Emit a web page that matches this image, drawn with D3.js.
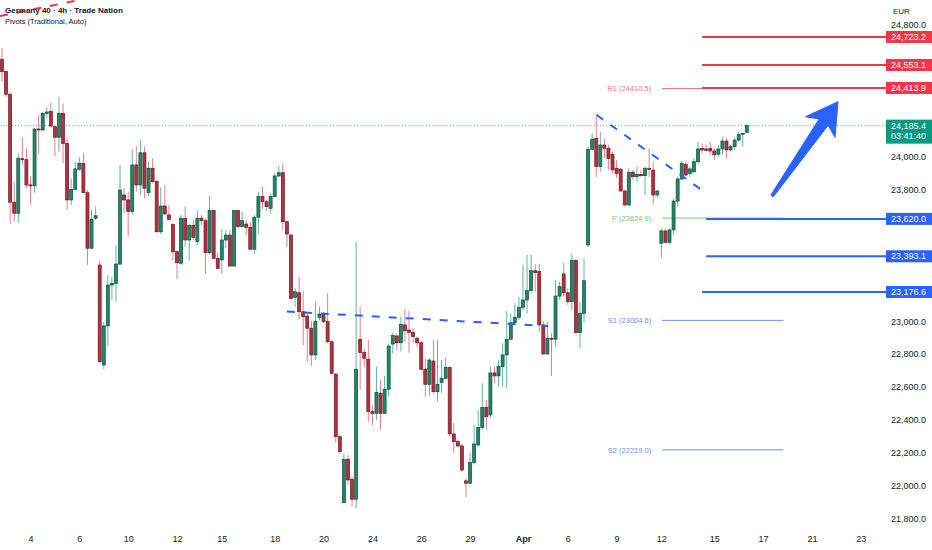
<!DOCTYPE html>
<html>
<head>
<meta charset="utf-8">
<script src="https://cdn.jsdelivr.net/npm/d3@7"></script>
<style>
    body { margin: 0; background: #ffffff; }
    svg { display: block; font-family: "Liberation Sans", Arial, sans-serif; }
</style>
</head>
<body>
<svg id="chart"></svg>
<script>
/**
 * Germany 40 - 4h candles with pivots and levels
 */
window.onload = function(){
    drawChart();
};

// candle prices, one value per 4h bar
const OPEN = [
    24588, 24513, 24376, 23721, 23654, 23985, 23979, 23826, 23821, 24165,
    24159, 24260, 24272, 24179, 24115, 24260, 24078, 23735, 23799, 23921,
    23957, 23779, 23442, 23624, 23340, 22734, 22971, 23219, 23229, 23346,
    23765, 23735, 23664, 23947, 23826, 24021, 23779, 23927, 23846, 23542,
    23698, 23644, 23587, 23421, 23351, 23624, 23492, 23579, 23482, 23624,
    23609, 23415, 23670, 23381, 23371, 23492, 23522, 23334, 23670, 23573,
    23589, 23569, 23436, 23630, 23755, 23724, 23684, 23755, 23880, 23900,
    23603, 23522, 23144, 23172, 23057, 23031, 22957, 22795, 23023, 23043,
    22997, 22875, 22679, 22299, 21899, 22162, 22041, 21920, 22890, 22809,
    22769, 22451, 22441, 22562, 22441, 22587, 22861, 22910, 22869, 22977,
    22946, 22932, 22896, 22869, 22708, 22617, 22758, 22572, 22627, 22653,
    22720, 22316, 22269, 22243, 22031, 22017, 22142, 22249, 22356, 22477,
    22431, 22686, 22668, 22724, 22795, 22890, 22990, 23023, 23084, 23128,
    23185, 23306, 23300, 22977, 22801, 22896, 22890, 23152, 23286, 23172,
    23118, 23367, 22930, 23047, 23462, 24042, 24109, 23937, 24068, 24048,
    24012, 23927, 23921, 23789, 23704, 23903, 23876, 23890, 23882, 23927,
    23916, 23765, 23472, 23547, 23478, 23553, 23728, 23862, 23951, 23896,
    23906, 23967, 24048, 24044, 24048, 24032, 24012, 24044, 24092, 24038,
    24058, 24098, 24133, 24145
];
const HIGH = [
    24656, 24519, 24385, 23846, 24018, 24115, 24048, 23880, 24169, 24248,
    24270, 24297, 24325, 24189, 24361, 24321, 24109, 23866, 23967, 23994,
    24021, 23795, 23674, 23694, 23365, 22995, 23280, 23269, 23462, 23947,
    23807, 23785, 24042, 24062, 24098, 24058, 23967, 23988, 23856, 23812,
    23826, 23704, 23593, 23427, 23644, 23694, 23593, 23613, 23670, 23644,
    23624, 23759, 23674, 23415, 23557, 23553, 23553, 23674, 23674, 23664,
    23613, 23603, 23644, 23785, 23815, 23735, 23775, 23897, 23941, 23953,
    23609, 23528, 23199, 23266, 23185, 23047, 23003, 23118, 23088, 23057,
    23169, 22886, 22683, 22310, 22198, 22188, 22057, 23482, 23088, 22835,
    22886, 22491, 22724, 22643, 22667, 22866, 22930, 22926, 23027, 23072,
    23063, 22957, 22906, 22881, 22775, 22775, 22886, 22886, 22764, 22775,
    22724, 22381, 22279, 22255, 22047, 22202, 22370, 22461, 22623, 22522,
    22724, 22724, 22764, 22866, 23063, 23047, 23108, 23148, 23340, 23401,
    23401, 23346, 23346, 22997, 22997, 22926, 23249, 23239, 23354, 23199,
    23407, 23375, 23118, 23381, 24058, 24139, 24254, 24149, 24109, 24068,
    24027, 23977, 23927, 23795, 23927, 23917, 23937, 23917, 23937, 24048,
    23967, 23795, 23563, 23563, 23563, 23745, 23876, 23971, 23963, 23937,
    23989, 24088, 24078, 24072, 24088, 24048, 24068, 24118, 24109, 24068,
    24112, 24149, 24143, 24192
];
const LOW = [
    24452, 24361, 23589, 23603, 23597, 23947, 23806, 23709, 23779, 24013,
    24153, 24234, 24175, 24001, 24027, 23957, 23674, 23704, 23791, 23912,
    23775, 23340, 23436, 23613, 22744, 22710, 22849, 23128, 23118, 23340,
    23656, 23512, 23644, 23785, 23765, 23745, 23755, 23836, 23536, 23528,
    23644, 23613, 23371, 23254, 23340, 23452, 23366, 23492, 23462, 23583,
    23286, 23407, 23375, 23314, 23286, 23442, 23330, 23330, 23563, 23569,
    23522, 23431, 23407, 23528, 23678, 23670, 23654, 23751, 23876, 23553,
    23448, 23128, 23088, 23007, 22855, 22754, 22728, 22764, 23007, 22987,
    22866, 22673, 22263, 22198, 21895, 22006, 21875, 21865, 22582, 22724,
    22390, 22370, 22401, 22340, 22437, 22542, 22805, 22825, 22815, 22875,
    22809, 22866, 22841, 22704, 22542, 22546, 22562, 22512, 22566, 22647,
    22303, 22202, 22235, 22087, 21932, 22012, 22130, 22239, 22340, 22340,
    22413, 22623, 22603, 22603, 22593, 22886, 22987, 23007, 23067, 23047,
    23169, 23179, 22936, 22795, 22795, 22667, 22845, 23128, 23148, 23098,
    23067, 22926, 22835, 22990, 23448, 24038, 23872, 23906, 23987, 23917,
    23896, 23866, 23789, 23700, 23704, 23856, 23846, 23876, 23765, 23876,
    23709, 23745, 23385, 23472, 23466, 23522, 23694, 23856, 23882, 23876,
    23898, 23951, 24018, 24028, 24008, 23977, 23997, 24008, 23987, 24028,
    24038, 24088, 24058, 24141
];
const CLOSE = [
    24513, 24376, 23721, 23654, 23988, 23979, 23826, 23820, 24165, 24159,
    24260, 24268, 24183, 24115, 24260, 24078, 23735, 23799, 23923, 23957,
    23779, 23442, 23618, 23639, 22754, 22971, 23219, 23229, 23346, 23795,
    23735, 23664, 23947, 23826, 24021, 23806, 23927, 23846, 23542, 23698,
    23650, 23617, 23421, 23354, 23624, 23492, 23579, 23508, 23624, 23609,
    23415, 23670, 23381, 23320, 23492, 23522, 23334, 23670, 23573, 23609,
    23569, 23436, 23630, 23755, 23724, 23694, 23755, 23880, 23900, 23603,
    23528, 23138, 23178, 23057, 23027, 22957, 22795, 22997, 23043, 22997,
    22875, 22684, 22299, 22208, 22162, 22037, 21920, 22708, 22809, 22775,
    22451, 22441, 22568, 22441, 22587, 22849, 22912, 22869, 22981, 22942,
    22932, 22906, 22869, 22708, 22617, 22764, 22572, 22617, 22653, 22720,
    22316, 22269, 22243, 22097, 22017, 22142, 22255, 22356, 22477, 22420,
    22686, 22668, 22724, 22795, 22890, 22990, 23023, 23084, 23128, 23185,
    23306, 23294, 22977, 22801, 22896, 22890, 23152, 23209, 23172, 23118,
    23367, 22930, 23047, 23245, 24042, 24103, 23937, 24068, 24048, 23987,
    23917, 23896, 23789, 23704, 23903, 23876, 23890, 23882, 23927, 23921,
    23765, 23789, 23547, 23478, 23553, 23728, 23862, 23957, 23886, 23923,
    23967, 24044, 24038, 24036, 24032, 24008, 24044, 24092, 24038, 24058,
    24098, 24133, 24139, 24185.4
];

// time axis: label text and the bar index it sits on
const TICK_LABELS = ["4", "6", "10", "12", "15", "18", "20", "24", "26", "29", "Apr", "6", "9", "12", "15", "17", "21", "23"];
const TICK_INDEX = [7, 19, 31, 43, 54, 67, 79, 91, 103, 115, 128, 139, 151, 162, 175, 187, 199, 211];

const PRICE_TICKS = [21800, 22000, 22200, 22400, 22600, 22800, 23000, 23200, 23400, 23600, 23800, 24000, 24200, 24400, 24600, 24800];

// hand drawn levels
const RESIST_LEVELS = [24723.2, 24553.1, 24413.9];
const RESIST_START = [172, 172, 172];
const SUPPORT_LEVELS = [23620.0, 23393.1, 23176.6];
const SUPPORT_START = [173, 173, 172];

// pivots (traditional)
const PIVOT_NAMES = ["R1", "P", "S1", "S2"];
const PIVOT_VALUES = [24410.5, 23624.9, 23004.6, 22219.0];
const PIVOT_RANGE = [162.2, 192];

// trend lines as [barIndex, price]
const NECKLINE = [[70, 23058], [134.2, 22970]];
const WEDGE_LINE = [[146.1, 24250], [172.7, 23781]];
const OLD_LINE = [[-0.5, 24850], [21.6, 24960]];
const ARROW = [[189.2, 23759], [205.4, 24331]];

const LAST_PRICE = 24185.4;
const COUNTDOWN = "03:41:40";

const WIDTH = 932;
const HEIGHT = 550;
const AXIS_X = 886;

const UP = "#22866b", UP_EDGE = "#0f4f3e", UP_WICK = "#5fb79d";
const DOWN = "#b5303f", DOWN_EDGE = "#6e1a24", DOWN_WICK = "#e3808b";
const RED = "#f23645";
const BLUE = "#2962ff";
const GREEN = "#089981";

function drawChart(){
    let xScale = d3.scaleLinear()
        .domain([0, 211])
        .range([2, 860.8]);

    let yScale = d3.scaleLinear()
        .domain([21800, 24800])
        .range([519, 24.3]);

    let svg = d3.select("#chart")
        .attr("width", WIDTH)
        .attr("height", HEIGHT);

    let candles = d3.range(OPEN.length).map(function(i){
        return { i: i, o: OPEN[i], h: HIGH[i], l: LOW[i], c: CLOSE[i] };
    });

    // current price dotted line
    svg.append("line")
        .attr("x1", 0)
        .attr("x2", AXIS_X)
        .attr("y1", yScale(LAST_PRICE))
        .attr("y2", yScale(LAST_PRICE))
        .attr("stroke", GREEN)
        .attr("stroke-width", 1)
        .attr("stroke-dasharray", "1,2")
        .attr("opacity", 0.7);

    // pivot lines + labels
    let pivotColors = ["#f7737e", "#7cc67f", "#6f8ef7", "#6f8ef7"];
    let pivots = svg.append("g");
    PIVOT_VALUES.forEach(function(v, k){
        pivots.append("line")
            .attr("x1", xScale(PIVOT_RANGE[0]))
            .attr("x2", xScale(PIVOT_RANGE[1]))
            .attr("y1", yScale(v))
            .attr("y2", yScale(v))
            .attr("stroke", pivotColors[k])
            .attr("stroke-width", 1);
        pivots.append("text")
            .attr("x", xScale(PIVOT_RANGE[0]) - 11)
            .attr("y", yScale(v))
            .attr("dy", "0.35em")
            .attr("text-anchor", "end")
            .attr("font-size", "7.5px")
            .attr("fill", pivotColors[k])
            .text(PIVOT_NAMES[k] + " (" + v.toFixed(1) + ")");
    });

    // wicks
    svg.append("g")
        .selectAll("line")
        .data(candles)
        .enter()
        .append("line")
        .attr("x1", function(d) { return xScale(d.i); })
        .attr("x2", function(d) { return xScale(d.i); })
        .attr("y1", function(d) { return yScale(d.h); })
        .attr("y2", function(d) { return yScale(d.l); })
        .attr("stroke", function(d) { return d.c >= d.o ? UP_WICK : DOWN_WICK; })
        .attr("stroke-width", 1);

    // bodies
    svg.append("g")
        .selectAll("rect")
        .data(candles)
        .enter()
        .append("rect")
        .attr("x", function(d) { return xScale(d.i) - 1.5; })
        .attr("y", function(d) { return yScale(Math.max(d.o, d.c)); })
        .attr("width", 3)
        .attr("height", function(d) {
            return Math.max(1, Math.abs(yScale(d.o) - yScale(d.c)));
        })
        .attr("fill", function(d) { return d.c >= d.o ? UP : DOWN; })
        .attr("stroke", function(d) { return d.c >= d.o ? UP_EDGE : DOWN_EDGE; })
        .attr("stroke-width", 0.7);

    // thick levels
    let levels = RESIST_LEVELS.map(function(v, k){ return { v: v, s: RESIST_START[k], col: RED }; })
        .concat(SUPPORT_LEVELS.map(function(v, k){ return { v: v, s: SUPPORT_START[k], col: BLUE }; }));

    svg.append("g")
        .selectAll("line")
        .data(levels)
        .enter()
        .append("line")
        .attr("x1", function(d) { return xScale(d.s); })
        .attr("x2", AXIS_X)
        .attr("y1", function(d) { return yScale(d.v); })
        .attr("y2", function(d) { return yScale(d.v); })
        .attr("stroke", function(d) { return d.col; })
        .attr("stroke-width", 2);

    // dashed trend lines
    let trend = [
        { pts: NECKLINE, col: BLUE },
        { pts: WEDGE_LINE, col: BLUE },
        { pts: OLD_LINE, col: "#e8304a" }
    ];
    svg.append("g")
        .selectAll("line")
        .data(trend)
        .enter()
        .append("line")
        .attr("x1", function(d) { return xScale(d.pts[0][0]); })
        .attr("y1", function(d) { return yScale(d.pts[0][1]); })
        .attr("x2", function(d) { return xScale(d.pts[1][0]); })
        .attr("y2", function(d) { return yScale(d.pts[1][1]); })
        .attr("stroke", function(d) { return d.col; })
        .attr("stroke-width", 2)
        .attr("stroke-dasharray", "8,9");

    // big arrow
    let x0 = xScale(ARROW[0][0]), y0 = yScale(ARROW[0][1]);
    let x1 = xScale(ARROW[1][0]), y1 = yScale(ARROW[1][1]);
    let len = Math.hypot(x1 - x0, y1 - y0);
    let ux = (x1 - x0) / len, uy = (y1 - y0) / len;
    let at = function(dist, w){
        return [x1 - ux * dist - uy * w, y1 - uy * dist + ux * w];
    };
    let arrowPts = [at(len, 1.5), at(25, 5.5), at(31, 18), [x1, y1], at(31, -18), at(25, -5.5), at(len, -1.5)];
    svg.append("polygon")
        .attr("points", arrowPts.map(function(p){ return p.join(","); }).join(" "))
        .attr("fill", BLUE)
        .attr("stroke", BLUE)
        .attr("stroke-width", 1)
        .attr("stroke-linejoin", "round");

    // title
    svg.append("text")
        .attr("x", 5)
        .attr("y", 13)
        .attr("font-size", "8px")
        .attr("font-weight", "bold")
        .attr("fill", "#131722")
        .text("Germany 40 · 4h · Trade Nation");
    svg.append("text")
        .attr("x", 5)
        .attr("y", 24)
        .attr("font-size", "7.5px")
        .attr("fill", "#131722")
        .text("Pivots (Traditional, Auto)");

    // right price axis, skipping labels hidden under the tags
    let tagSpans = RESIST_LEVELS.concat(SUPPORT_LEVELS).map(function(v){
        return [yScale(v) - 6, yScale(v) + 6];
    });
    tagSpans.push([yScale(LAST_PRICE) - 6, yScale(LAST_PRICE) + 18]);
    let freeTicks = PRICE_TICKS.filter(function(t){
        let y = yScale(t);
        return !tagSpans.some(function(s){ return y > s[0] - 5 && y < s[1] + 5; });
    });

    let yAxis = d3.axisLeft(yScale)
        .tickValues(freeTicks)
        .tickFormat(d3.format(",.1f"))
        .tickSize(0)
        .tickPadding(0);
    let gy = svg.append("g")
        .attr("transform", "translate(926,0)")
        .call(yAxis);
    gy.select(".domain").remove();
    gy.selectAll("text")
        .attr("font-size", "9px")
        .attr("font-family", "Liberation Sans, Arial, sans-serif")
        .attr("fill", "#131722");

    svg.append("text")
        .attr("x", 893)
        .attr("y", 14)
        .attr("font-size", "8px")
        .attr("fill", "#131722")
        .text("EUR");

    // bottom time axis
    let xAxis = d3.axisBottom(xScale)
        .tickValues(TICK_INDEX)
        .tickFormat(function(d, i) { return TICK_LABELS[i]; })
        .tickSize(0)
        .tickPadding(3);
    let gx = svg.append("g")
        .attr("transform", "translate(0,533)")
        .call(xAxis);
    gx.select(".domain").remove();
    gx.selectAll("text")
        .attr("font-size", "9px")
        .attr("font-family", "Liberation Sans, Arial, sans-serif")
        .attr("fill", "#131722")
        .attr("font-weight", function(d, i) { return TICK_LABELS[i] === "Apr" ? "bold" : "normal"; });

    // level tags on the axis
    let tags = svg.append("g");
    levels.forEach(function(d){
        tags.append("rect")
            .attr("x", AXIS_X)
            .attr("y", yScale(d.v) - 6)
            .attr("width", WIDTH - AXIS_X)
            .attr("height", 12)
            .attr("fill", d.col);
        tags.append("text")
            .attr("x", 926)
            .attr("y", yScale(d.v))
            .attr("dy", "0.35em")
            .attr("text-anchor", "end")
            .attr("font-size", "9px")
            .attr("fill", "#ffffff")
            .text(d3.format(",.1f")(d.v));
    });

    // last price tag with countdown
    let ly = yScale(LAST_PRICE);
    tags.append("rect")
        .attr("x", AXIS_X)
        .attr("y", ly - 6)
        .attr("width", WIDTH - AXIS_X)
        .attr("height", 24)
        .attr("fill", GREEN);
    tags.append("text")
        .attr("x", 926)
        .attr("y", ly)
        .attr("dy", "0.35em")
        .attr("text-anchor", "end")
        .attr("font-size", "9px")
        .attr("fill", "#ffffff")
        .text(d3.format(",.1f")(LAST_PRICE));
    tags.append("text")
        .attr("x", 926)
        .attr("y", ly + 10.5)
        .attr("dy", "0.35em")
        .attr("text-anchor", "end")
        .attr("font-size", "9px")
        .attr("fill", "#ffffff")
        .text(COUNTDOWN);
}
</script>
</body>
</html>
